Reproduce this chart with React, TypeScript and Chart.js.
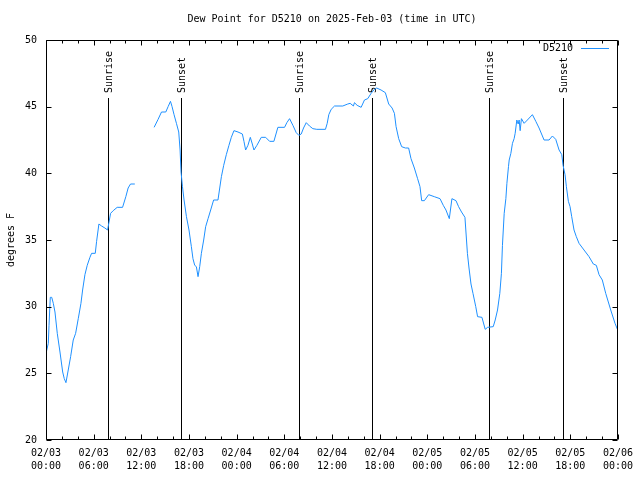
import React, { useEffect, useRef } from "react";
import { Chart, registerables } from "chart.js";

Chart.register(...registerables);

const TITLE = "Dew Point for D5210 on 2025-Feb-03 (time in UTC)";
const SERIES_LABEL = "D5210";
const Y_TITLE = "degrees F";
const LINE_COLOR = "#1e90ff";
const FONT = "'DejaVu Sans Mono', 'Liberation Mono', monospace";

// hours since 02/03 00:00 UTC
const HOURS = [
  0.0, 0.29, 0.38, 0.54, 0.72, 0.92, 1.13, 1.42, 1.76, 2.1, 2.3, 2.51, 2.8, 3.1, 3.43, 3.73, 4.06, 4.4, 4.61, 4.9,
  5.19, 5.53, 5.74, 6.2, 6.37, 6.66, 7.0, 7.41, 7.75, 7.92, 8.13, 8.46, 8.96, 9.64, 10.05, 10.34, 10.64, 11.18,
  12.4,
  13.61, 14.11, 14.54, 15.08, 15.37, 15.67, 15.87, 16.12, 16.42, 16.71, 16.88, 17.0, 17.18, 17.38, 17.68, 18.0,
  18.3, 18.5, 18.72, 18.93, 19.14, 19.35, 19.56, 19.85, 20.1, 20.4, 20.73, 21.1, 21.65, 21.87, 22.08, 22.37, 22.7,
  23.03, 23.33, 23.66, 24.17, 24.72, 24.92, 25.13, 25.42, 25.72, 25.97, 26.18, 26.55, 27.1, 27.65, 28.15, 28.69,
  29.19, 30.03, 30.32, 30.66, 31.08, 31.5, 31.83, 32.13, 32.42, 32.76, 33.17, 33.59, 34.09, 35.18, 35.4, 35.6,
  35.9, 36.32, 37.36, 37.99, 38.29, 38.7, 38.83, 39.17, 39.67, 40.09, 40.5, 40.93, 41.34, 41.63, 42.18, 42.72,
  43.14, 43.57, 43.86, 44.07, 44.4, 44.77, 45.24, 45.65, 45.95, 46.37, 46.78, 47.08, 47.29, 47.63, 48.17, 48.88,
  49.6, 50.01, 50.35, 50.77, 51.1, 51.61, 51.94, 52.31, 52.74, 52.9, 53.05, 53.25, 53.5, 53.75, 54.1, 54.33,
  54.88, 55.29, 55.59, 56.3, 56.55, 56.84, 57.13, 57.33, 57.46, 57.68, 57.89, 58.02, 58.22, 58.31, 58.52, 58.72,
  58.93, 59.06, 59.27, 59.44, 59.56, 59.69, 59.85, 60.19, 60.6, 61.23, 61.66, 62.07, 62.7, 63.33, 63.75, 64.17,
  64.59, 64.93, 65.09, 65.34, 65.51, 65.76, 65.97, 66.18, 66.47, 66.76, 67.1, 67.73, 68.36, 68.9, 69.28, 69.62,
  70.03, 70.46, 71.09, 71.63, 71.97,
];

const DEW_POINT = [
  26.5, 27.25, 28.6, 30.7, 30.7, 30.25, 29.6, 28.0, 26.6, 25.1, 24.6, 24.3, 25.25, 26.25, 27.5, 28.0, 29.1, 30.25,
  31.25, 32.4, 33.1, 33.7, 34.0, 34.0, 34.9, 36.2, 36.05, 35.9, 35.75, 36.3, 37.0, 37.2, 37.45, 37.45, 38.25, 38.9,
  39.2, 39.2,
  null,
  43.45, 44.05, 44.6, 44.6, 45.0, 45.4, 45.0, 44.4, 43.75, 43.1, 41.75, 40.1, 39.0, 38.0, 36.75, 35.75, 34.5, 33.6,
  33.1, 33.0, 32.25, 33.0, 34.0, 35.0, 36.0, 36.6, 37.25, 38.0, 38.0, 38.9, 39.75, 40.6, 41.4, 42.1, 42.7, 43.2,
  43.1, 42.95, 42.4, 41.75, 42.1, 42.7, 42.2, 41.75, 42.1, 42.7, 42.7, 42.4, 42.4, 43.45, 43.45, 43.8, 44.1, 43.6,
  43.05, 42.85, 42.95, 43.4, 43.8, 43.55, 43.35, 43.3, 43.3, 43.75, 44.4, 44.8, 45.05, 45.05, 45.2, 45.25, 45.05,
  45.3, 45.1, 44.95, 45.5, 45.6, 46.0, 46.3, 46.4, 46.25, 46.05, 45.2, 44.9, 44.5, 43.5, 42.6, 42.0, 41.9, 41.9,
  41.1, 40.4, 39.6, 39.0, 37.95, 37.95, 38.4, 38.25, 38.1, 37.6, 37.25, 36.6, 38.1, 37.95, 37.5, 37.1, 36.7, 35.3,
  34.0, 32.9, 31.7, 31.0, 30.0, 29.25, 29.2, 28.3, 28.45, 28.5, 29.0, 29.75, 31.0, 32.5, 34.6, 37.0, 38.1, 39.25,
  40.5, 41.0, 41.5, 42.25, 42.6, 43.0, 44.0, 43.7, 44.0, 43.2, 44.1, 43.75, 44.0, 44.4, 43.9, 43.4, 42.5, 42.5,
  42.8, 42.55, 41.75, 41.4, 40.6, 39.9, 39.0, 37.9, 37.5, 36.75, 35.75, 35.25, 34.75, 34.25, 33.75, 33.2, 33.1,
  32.4, 32.0, 31.0, 29.75, 28.75, 28.25,
];

const X_TICK_DATES = ["02/03", "02/03", "02/03", "02/03", "02/04", "02/04", "02/04", "02/04", "02/05", "02/05", "02/05", "02/05", "02/06"];
const X_TICK_TIMES = ["00:00", "06:00", "12:00", "18:00", "00:00", "06:00", "12:00", "18:00", "00:00", "06:00", "12:00", "18:00", "00:00"];

const SUN_TIMES = [7.83, 17.02, 31.82, 41.05, 55.8, 65.1];
const SUN_LABELS = ["Sunrise", "Sunset", "Sunrise", "Sunset", "Sunrise", "Sunset"];
const SUN_LINE_TOP = 45.65;

const X_MIN = 0, X_MAX = 72, X_MAJOR = 6, X_MINOR = 2;
const Y_MIN = 20, Y_MAX = 50, Y_STEP = 5;

const framePlugin = {
  id: "gnuFrame",
  beforeDatasetsDraw(chart: any) {
    const { ctx, scales } = chart;
    const x = scales.x, y = scales.y;
    ctx.save();
    ctx.strokeStyle = "#000";
    ctx.lineWidth = 1;
    ctx.fillStyle = "#000";
    ctx.font = `10px ${FONT}`;
    const yTop = y.getPixelForValue(SUN_LINE_TOP);
    const yBot = y.getPixelForValue(Y_MIN);
    SUN_TIMES.forEach((t, i) => {
      const px = Math.round(x.getPixelForValue(t)) + 0.5;
      ctx.beginPath();
      ctx.moveTo(px, Math.round(yTop));
      ctx.lineTo(px, yBot);
      ctx.stroke();
      ctx.save();
      ctx.translate(px + 1, Math.round(yTop) - 5);
      ctx.rotate(-Math.PI / 2);
      ctx.textAlign = "left";
      ctx.textBaseline = "middle";
      ctx.fillText(SUN_LABELS[i], 0, 0);
      ctx.restore();
    });
    ctx.restore();
  },
  afterDraw(chart: any) {
    const { ctx, chartArea: a, scales } = chart;
    const x = scales.x, y = scales.y;
    ctx.save();
    // title centred over plot area
    ctx.font = `10px ${FONT}`;
    ctx.fillStyle = "#000";
    ctx.textAlign = "center";
    ctx.textBaseline = "middle";
    ctx.fillText(TITLE, (a.left + a.right) / 2, 19);

    ctx.strokeStyle = "#000";
    ctx.lineWidth = 1;
    const L = Math.round(a.left) + 0.5, R = Math.round(a.right) - 0.5;
    const T = Math.round(a.top) + 0.5, B = Math.round(a.bottom) - 0.5;
    ctx.beginPath();
    ctx.rect(L, T, R - L, B - T);
    for (let h = X_MIN; h <= X_MAX; h += X_MINOR) {
      const px = Math.round(x.getPixelForValue(h)) + 0.5;
      const len = h % X_MAJOR === 0 ? 5 : 3;
      ctx.moveTo(px, B);
      ctx.lineTo(px, B - len);
      ctx.moveTo(px, T);
      ctx.lineTo(px, T + len);
    }
    for (let v = Y_MIN; v <= Y_MAX; v += Y_STEP) {
      const py = Math.round(y.getPixelForValue(v)) + 0.5;
      ctx.moveTo(L, py);
      ctx.lineTo(L + 5, py);
      ctx.moveTo(R, py);
      ctx.lineTo(R - 5, py);
    }
    ctx.stroke();
    // legend
    ctx.textAlign = "right";
    const ly = Math.round(a.top) + 8.5;
    ctx.fillText(SERIES_LABEL, Math.round(a.right) - 45, ly);
    ctx.strokeStyle = LINE_COLOR;
    ctx.beginPath();
    ctx.moveTo(Math.round(a.right) - 37, ly);
    ctx.lineTo(Math.round(a.right) - 9, ly);
    ctx.stroke();
    ctx.restore();
  },
};

export default function App() {
  const ref = useRef<HTMLCanvasElement | null>(null);
  useEffect(() => {
    if (!ref.current) return;
    const data = HOURS.map((h, i) => ({ x: h, y: DEW_POINT[i] }));
    const font = { family: FONT, size: 10, lineHeight: 1.3 };
    const chart = new Chart(ref.current, {
      type: "line",
      data: {
        datasets: [
          {
            label: SERIES_LABEL,
            data: data as any,
            borderColor: LINE_COLOR,
            backgroundColor: LINE_COLOR,
            borderWidth: 1,
            pointRadius: 0,
            tension: 0,
            spanGaps: false,
          },
        ],
      },
      options: {
        responsive: false,
        animation: false,
        events: [],
        layout: { padding: { left: 0, right: 21, top: 40, bottom: 0 } },
        plugins: {
          legend: { display: false },
          tooltip: { enabled: false },
          title: { display: false },
        },
        scales: {
          x: {
            type: "linear",
            min: X_MIN,
            max: X_MAX,
            afterFit: (s: any) => {
              s.height = 40;
            },
            grid: { display: false, drawTicks: false },
            border: { display: false },
            ticks: {
              stepSize: X_MAJOR,
              autoSkip: false,
              maxRotation: 0,
              minRotation: 0,
              padding: 7,
              color: "#000",
              font,
              callback: (v: any) => {
                const i = Math.round(Number(v) / X_MAJOR);
                return [X_TICK_DATES[i], X_TICK_TIMES[i]];
              },
            },
          },
          y: {
            min: Y_MIN,
            max: Y_MAX,
            afterFit: (s: any) => {
              s.width = 46;
            },
            grid: { display: false, drawTicks: false },
            border: { display: false },
            ticks: { stepSize: Y_STEP, padding: 9, color: "#000", font: { family: FONT, size: 10 } },
            title: {
              display: true,
              text: Y_TITLE,
              color: "#000",
              font: { family: FONT, size: 10 },
              padding: { top: 5, bottom: 0 },
            },
          },
        },
      },
      plugins: [framePlugin],
    });
    return () => chart.destroy();
  }, []);
  return (
    <div style={{ position: "fixed", left: 0, top: 0, width: 640, height: 480, background: "#fff" }}>
      <canvas ref={ref} width={640} height={480} />
    </div>
  );
}
